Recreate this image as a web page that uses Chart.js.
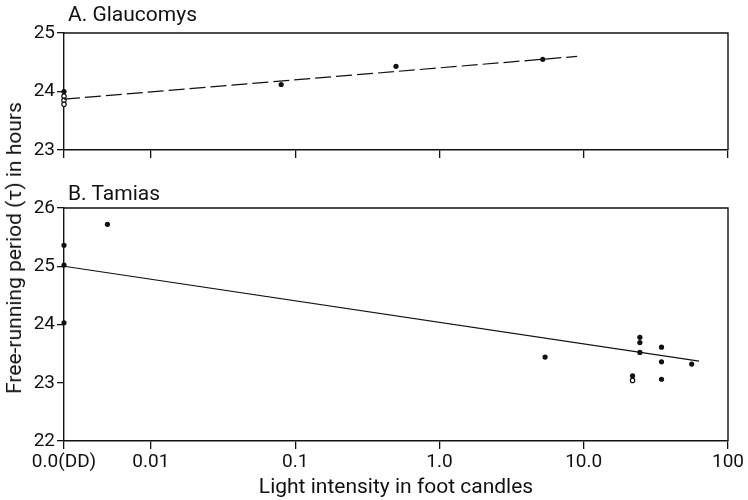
<!DOCTYPE html>
<html>
<head>
<meta charset="utf-8">
<script src="https://cdn.jsdelivr.net/npm/chart.js@4"></script>
<style>
  body { margin: 0; background: #fff; }
  #wrap { position: relative; width: 748px; height: 500px; font-family: Roboto, sans-serif; color: #111; }
  .box { position: absolute; left: 0; width: 748px; }
  .lbl { position: absolute; font-size: 21px; line-height: 24px; white-space: nowrap; }
  #ytitle { left: 14px; top: 248px; transform: translate(-50%, -50%) rotate(-90deg); }
</style>
</head>
<body>
<div id="wrap">
  <div class="box" style="top:0;height:166px"><canvas id="chartA"></canvas></div>
  <div class="box" style="top:165px;height:335px"><canvas id="chartB"></canvas></div>
  <div class="lbl" style="left:68px;top:2px">A. Glaucomys</div>
  <div class="lbl" style="left:68px;top:181px">B. Tamias</div>
  <div class="lbl" id="ytitle">Free-running period (τ) in hours</div>
</div>
<script>
// x axis: log light intensity, DD plotted at the left edge
const xTickValues = [0.0025, 0.01, 0.1, 1, 10, 100];
const xTickLabels = ['0.0(DD)', '0.01', '0.1', '1.0', '10.0', '100'];

// A. Glaucomys
const glaucomysLight = [0.0025, 0.08, 0.5, 5.2];
const glaucomysTau = [24.0, 24.12, 24.43, 24.55];
const glaucomysOpenLight = [0.0025, 0.0025, 0.0025];
const glaucomysOpenTau = [23.92, 23.85, 23.78];
const glaucomysFitLight = [0.0025, 9.0];
const glaucomysFitTau = [23.87, 24.6];
const glaucomysYTicks = [23, 24, 25];

// B. Tamias
const tamiasLight = [0.0025, 0.0025, 0.0025, 0.005, 5.4, 24.5, 24.5, 24.5, 21.8, 34.6, 34.6, 34.6, 56];
const tamiasTau = [25.36, 25.02, 24.03, 25.72, 23.44, 23.78, 23.69, 23.52, 23.12, 23.61, 23.36, 23.06, 23.32];
const tamiasOpenLight = [21.8];
const tamiasOpenTau = [23.04];
const tamiasFitLight = [0.0025, 63];
const tamiasFitTau = [25.0, 23.37];
const tamiasYTicks = [22, 23, 24, 25, 26];

const ink = '#111';

function pts(xs, ys) {
  return xs.map((x, i) => ({ x: x, y: ys[i] }));
}

const frame = {
  id: 'frame',
  afterDraw(chart) {
    const a = chart.chartArea, c = chart.ctx;
    c.save();
    c.strokeStyle = ink;
    c.lineWidth = 1.4;
    c.beginPath();
    c.moveTo(a.left, a.top);
    c.lineTo(a.right, a.top);
    c.lineTo(a.right, a.bottom);
    c.stroke();
    c.restore();
  }
};

function panel(id, sets, yTicks, padTop, xHeight, showXLabels) {
  new Chart(document.getElementById(id), {
    type: 'scatter',
    data: {
      datasets: [
        {
          data: pts(sets.fitX, sets.fitY), showLine: true, pointRadius: 0,
          borderColor: ink, borderWidth: 1.2, borderDash: sets.dash, clip: false
        },
        {
          data: pts(sets.x, sets.y), pointRadius: 2.6, pointBackgroundColor: ink,
          pointBorderColor: ink, pointBorderWidth: 0, clip: false
        },
        {
          data: pts(sets.openX, sets.openY), pointRadius: 2.2, pointBackgroundColor: '#fff',
          pointBorderColor: ink, pointBorderWidth: 1.2, clip: false
        }
      ]
    },
    options: {
      responsive: true,
      maintainAspectRatio: false,
      animation: false,
      layout: { padding: { top: padTop, right: 20, left: 0, bottom: 0 } },
      plugins: { legend: { display: false }, tooltip: { enabled: false } },
      scales: {
        x: {
          type: 'logarithmic',
          min: xTickValues[0],
          max: xTickValues[xTickValues.length - 1],
          afterBuildTicks: s => { s.ticks = xTickValues.map(v => ({ value: v })); },
          afterFit: s => { s.height = xHeight; },
          grid: { drawOnChartArea: false, tickLength: 8, color: ink, lineWidth: 1.3 },
          border: { color: ink, width: 1.4 },
          ticks: {
            color: ink, padding: 2, maxRotation: 0, autoSkip: false,
            font: { family: 'Roboto', size: 19 },
            callback: (v, i) => showXLabels ? xTickLabels[i] : ''
          },
          title: {
            display: showXLabels, text: 'Light intensity in foot candles', color: ink,
            font: { family: 'Roboto', size: 21 }, padding: { top: 0, bottom: 0 }
          }
        },
        y: {
          min: yTicks[0],
          max: yTicks[yTicks.length - 1],
          afterBuildTicks: s => { s.ticks = yTicks.map(v => ({ value: v })); },
          afterFit: s => { s.width = 64; },
          grid: { drawOnChartArea: false, tickLength: 7, color: ink, lineWidth: 1.3 },
          border: { color: ink, width: 1.4 },
          ticks: { color: ink, padding: 2, font: { family: 'Roboto', size: 19 } }
        }
      }
    },
    plugins: [frame]
  });
}

panel('chartA', {
  x: glaucomysLight, y: glaucomysTau,
  openX: glaucomysOpenLight, openY: glaucomysOpenTau,
  fitX: glaucomysFitLight, fitY: glaucomysFitTau, dash: [16, 5]
}, glaucomysYTicks, 33, 16, false);

panel('chartB', {
  x: tamiasLight, y: tamiasTau,
  openX: tamiasOpenLight, openY: tamiasOpenTau,
  fitX: tamiasFitLight, fitY: tamiasFitTau, dash: []
}, tamiasYTicks, 43, 59, true);
</script>
</body>
</html>
